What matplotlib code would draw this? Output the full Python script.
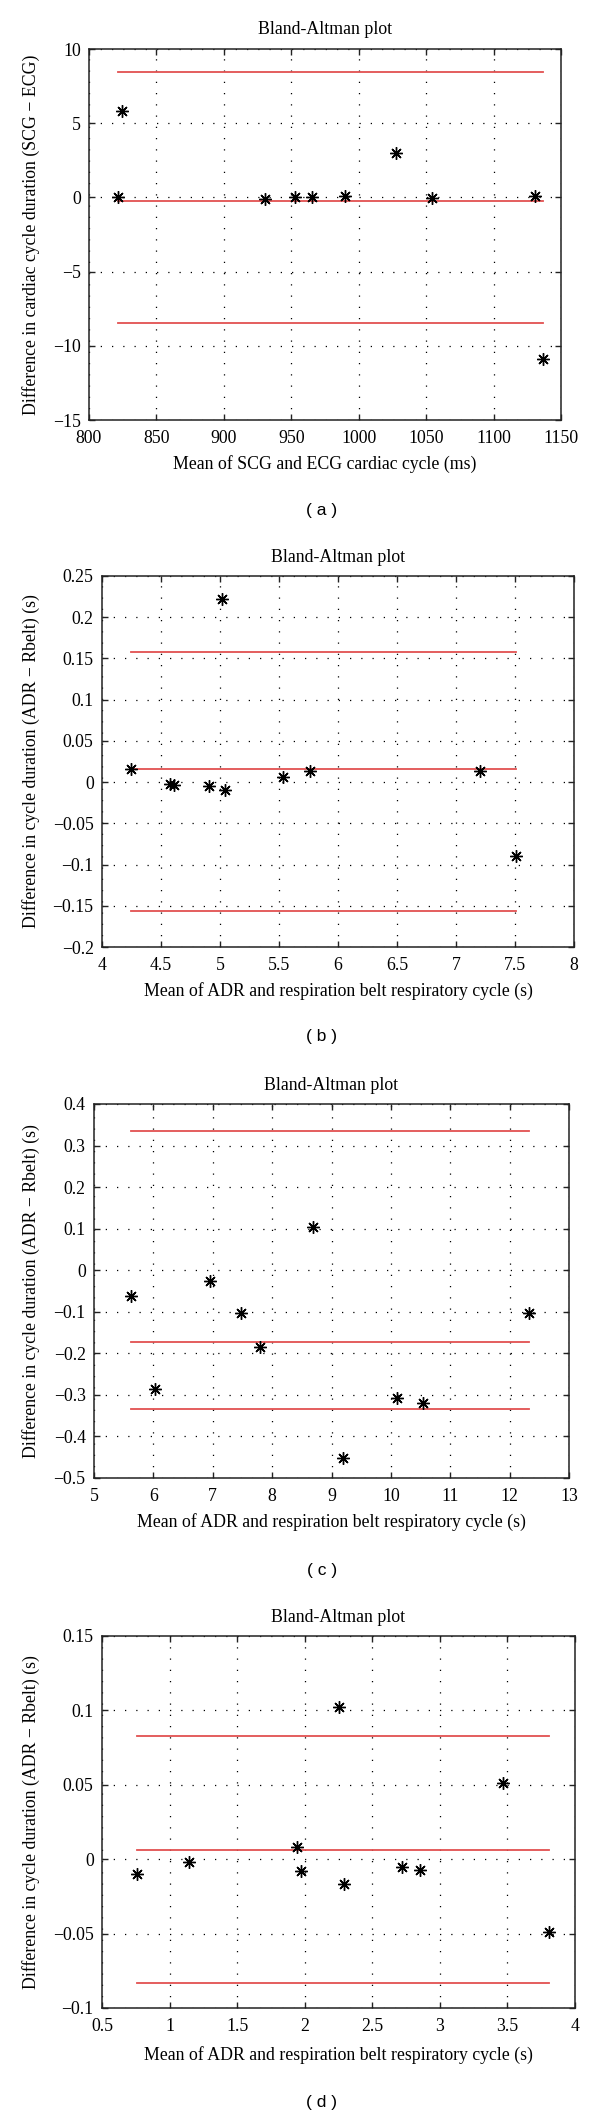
import matplotlib
matplotlib.use("Agg")
import matplotlib.pyplot as plt
import numpy as np

plt.rcParams['font.family'] = ['Liberation Serif', 'DejaVu Serif']

# ---------------- data ----------------
title = "Bland-Altman plot"

# (a)
a_x = [824.4, 821.8, 930.3, 953.0, 965.5, 990.0, 1027.8, 1054.5, 1131.0, 1136.6]
a_y = [5.79, 0.03, -0.08, 0.06, 0.05, 0.09, 3.0, -0.06, 0.08, -10.9]
a_lines = [8.47, -0.25, -8.44]
a_xlim = [800, 1150]
a_ylim = [-15, 10]
a_xticks = [800, 850, 900, 950, 1000, 1050, 1100, 1150]
a_yticks = [-15, -10, -5, 0, 5, 10]
a_xlabel = "Mean of SCG and ECG cardiac cycle (ms)"
a_ylabel = "Difference in cardiac cycle duration (SCG \u2212 ECG)"

# (b)
b_x = [4.243, 4.574, 4.613, 4.908, 5.015, 5.044, 5.53, 5.763, 7.206, 7.507]
b_y = [0.016, -0.002, -0.004, -0.005, 0.222, -0.009, 0.006, 0.013, 0.013, -0.09]
b_lines = [0.158, 0.016, -0.156]
b_xlim = [4, 8]
b_ylim = [-0.2, 0.25]
b_xticks = [4, 4.5, 5, 5.5, 6, 6.5, 7, 7.5, 8]
b_yticks = [-0.2, -0.15, -0.1, -0.05, 0, 0.05, 0.1, 0.15, 0.2, 0.25]
b_xlabel = "Mean of ADR and respiration belt respiratory cycle (s)"
b_ylabel = "Difference in cycle duration (ADR \u2212 Rbelt) (s)"

# (c)
c_x = [5.624, 6.029, 6.955, 7.469, 7.791, 8.691, 9.187, 10.106, 10.537, 12.325]
c_y = [-0.061, -0.286, -0.027, -0.104, -0.184, 0.103, -0.452, -0.307, -0.320, -0.103]
c_lines = [0.336, -0.173, -0.334]
c_xlim = [5, 13]
c_ylim = [-0.5, 0.4]
c_xticks = [5, 6, 7, 8, 9, 10, 11, 12, 13]
c_yticks = [-0.5, -0.4, -0.3, -0.2, -0.1, 0, 0.1, 0.2, 0.3, 0.4]
c_xlabel = "Mean of ADR and respiration belt respiratory cycle (s)"
c_ylabel = "Difference in cycle duration (ADR \u2212 Rbelt) (s)"

# (d)
d_x = [0.761, 1.144, 1.944, 1.969, 2.253, 2.292, 2.723, 2.854, 3.464, 3.804]
d_y = [-0.010, -0.002, 0.008, -0.008, 0.102, -0.017, -0.005, -0.007, 0.051, -0.049]
d_lines = [0.083, 0.0065, -0.083]
d_xlim = [0.5, 4]
d_ylim = [-0.1, 0.15]
d_xticks = [0.5, 1, 1.5, 2, 2.5, 3, 3.5, 4]
d_yticks = [-0.1, -0.05, 0, 0.05, 0.1, 0.15]
d_xlabel = "Mean of ADR and respiration belt respiratory cycle (s)"
d_ylabel = "Difference in cycle duration (ADR \u2212 Rbelt) (s)"

panel_letters = ["( a )", "( b )", "( c )", "( d )"]

# ---------------- layout ----------------
W, H = 600, 2115
DPI = 100
fig = plt.figure(figsize=(W / DPI, H / DPI), dpi=DPI)

# pixel boxes: left, top, width, height
boxes = [(89, 49, 472, 371), (102, 576, 472, 371), (94, 1104, 475, 374), (102, 1636, 473, 372)]
xlabel_off = [44.5, 44, 44.5, 47]
letter_y = [510, 1037, 1570, 2102]

RED = '#e25050'


def fmt(v):
    s = ('%g' % v)
    return s.replace('-', '\u2212')


panels = [
    (a_x, a_y, a_lines, a_xlim, a_ylim, a_xticks, a_yticks, a_xlabel, a_ylabel),
    (b_x, b_y, b_lines, b_xlim, b_ylim, b_xticks, b_yticks, b_xlabel, b_ylabel),
    (c_x, c_y, c_lines, c_xlim, c_ylim, c_xticks, c_yticks, c_xlabel, c_ylabel),
    (d_x, d_y, d_lines, d_xlim, d_ylim, d_xticks, d_yticks, d_xlabel, d_ylabel),
]

FS = 12.8
for i, (px, py, lines, xl, yl, xt, yt, xlab, ylab) in enumerate(panels):
    l, t, w, h = boxes[i]
    ax = fig.add_axes([l / W, 1 - (t + h) / H, w / W, h / H])
    ax.set_xlim(xl)
    ax.set_ylim(yl)
    ax.set_xticks(xt)
    ax.set_yticks(yt)
    ax.set_xticklabels([fmt(v) for v in xt], fontsize=FS)
    ax.set_yticklabels([fmt(v) for v in yt], fontsize=FS)
    ax.tick_params(direction='in', length=4, width=1.0, top=True, right=True,
                   color='#222222', pad=6)
    ax.tick_params(axis='x', pad=7)
    for sp in ax.spines.values():
        sp.set_linewidth(1.1)
        sp.set_color('#222222')
    ax.grid(True, color='black', linestyle=(0, (1, 8)), linewidth=0.9)
    ax.set_axisbelow(True)
    xmin, xmax = min(px), max(px)
    for v in lines:
        ax.plot([xmin, xmax], [v, v], color=RED, linewidth=1.3, zorder=2)
    ax.plot(px, py, linestyle='none', marker=(8, 2, 0), markersize=9,
            markeredgewidth=1.0, color='black', zorder=3)
    cx = (l + w / 2) / W
    fig.text(cx, 1 - (t - 19) / H, title, ha='center', va='center', fontsize=FS)
    fig.text(cx, 1 - (t + h + xlabel_off[i]) / H, xlab, ha='center', va='center', fontsize=FS)
    fig.text(30.6 / W, 1 - (t + h / 2) / H, ylab, ha='center', va='center',
             rotation=90, fontsize=FS)
    fig.text(322 / W, 1 - letter_y[i] / H, panel_letters[i], ha='center', va='center',
             fontsize=12.5, family=['Liberation Sans', 'DejaVu Sans'])

fig.savefig('out.png', dpi=DPI)
